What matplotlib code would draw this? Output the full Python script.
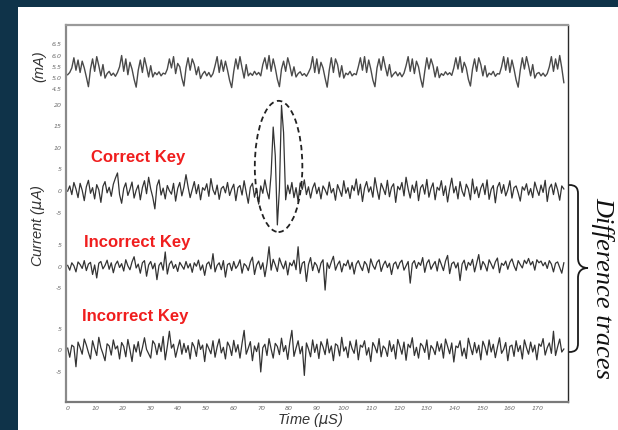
import numpy as np
import matplotlib.pyplot as plt
from matplotlib.patches import Ellipse, Rectangle, PathPatch
from matplotlib.path import Path

# --- data read off the picture (sampled every ~0.75 us) ---
# supply current trace, mA
supply_ma = [
    5.15, 5.25, 5.45, 5.90, 5.35, 5.80, 5.25, 5.75, 5.45, 5.05, 4.62, 5.40, 5.85, 5.30, 5.95, 5.55, 5.10, 5.60,
    5.00, 5.20, 5.30, 5.12, 5.22, 5.08, 5.25,
    5.50, 6.00, 5.30, 5.85, 5.15, 5.70, 5.40, 4.95, 4.60, 5.35, 5.80, 5.25, 5.90, 5.50, 5.05, 5.55,
    5.05, 5.25, 5.15, 5.28, 5.10, 5.22, 5.18,
    5.40, 5.85, 5.45, 5.95, 5.20, 5.65, 5.50, 5.00, 4.65, 5.45, 5.90, 5.35, 5.85, 5.60, 5.15, 5.50,
    4.98, 5.18, 5.30, 5.10, 5.25, 5.05, 5.20,
    5.55, 5.95, 5.25, 5.80, 5.30, 5.75, 5.35, 4.90, 4.58, 5.30, 5.85, 5.40, 5.95, 5.45, 5.00, 5.60,
    5.10, 5.22, 5.12, 5.30, 5.15, 5.25, 5.10,
    5.60, 5.90, 5.40, 6.00, 5.30, 5.85, 5.45, 4.95, 4.62, 5.40, 5.75, 5.30, 5.90, 5.55, 5.10, 5.50,
    5.05, 5.20, 5.28, 5.12, 5.20, 5.08, 5.25,
    5.45, 5.95, 5.25, 5.85, 5.20, 5.70, 5.45, 5.00, 4.60, 5.35, 5.90, 5.25, 5.85, 5.60, 5.05, 5.55,
    5.00, 5.22, 5.15, 5.30, 5.10, 5.20, 5.15,
    5.50, 5.90, 5.35, 5.95, 5.25, 5.80, 5.40, 4.92, 4.62, 5.45, 5.85, 5.35, 5.95, 5.50, 5.10, 5.60,
    5.05, 5.18, 5.28, 5.10, 5.24, 5.06, 5.22,
    5.55, 5.95, 5.30, 5.85, 5.20, 5.75, 5.50, 4.98, 4.60, 5.30, 5.90, 5.40, 5.85, 5.55, 5.05, 5.50,
    5.02, 5.20, 5.12, 5.28, 5.15, 5.24, 5.12,
    5.45, 5.90, 5.40, 5.95, 5.25, 5.70, 5.45, 4.95, 4.65, 5.40, 5.85, 5.30, 5.90, 5.60, 5.10, 5.55,
    5.05, 5.22, 5.15, 5.30, 5.08, 5.20, 5.18,
    5.50, 5.95, 5.35, 5.90, 5.25, 5.80, 5.40, 4.92, 4.60, 5.35, 5.90, 5.40, 5.95, 5.55, 5.10, 5.60,
    5.00, 5.20, 5.25, 5.10, 5.22, 5.08, 5.20,
    5.50, 5.95, 5.30, 5.85, 5.40, 6.00, 5.45, 4.80,
]

# difference trace, correct key guess (uA)
diff_correct = [
    0.0, 1.2, -0.8, 2.0, 0.5, -1.5, 1.8, 0.2, -2.2, 1.0, 2.5, -0.5, 0.8, -1.8, 1.5, 0.3, -2.6, 1.1, 2.2, -0.4,
    0.9, -1.2, 1.6, 3.0, 4.2, -0.8, -2.8, 0.6, 1.9, -1.0, 0.4, 2.1, -1.6, 0.2, 1.4, -2.0, 0.8, 2.4, -0.6, 3.2,
    0.5, -1.4, -4.1, 1.2, 2.6, -0.9, 0.7, -1.8, 1.3, 0.1, -0.7, 1.8, -2.3, 0.6, 2.0, -1.1, 0.9, 3.8, 1.0, -1.5,
    0.4, 2.2, -0.6, 1.5, -2.0, 0.8, 0.2, 1.7, -1.2, 2.9, 0.3, -0.8, 1.4, -1.9, 0.6, 1.1, -0.4, 2.0, -1.0, 0.5,
    1.6, -2.2, 0.8, 1.3, -0.9, 2.4, -0.3, -2.8, 0.9, 1.8, -1.4, 0.6, -3.0, 1.2, -0.5, 2.6, 0.0, -1.8, 4.0, 14.8,
    8.2, -7.8, 0.5, 19.8, 13.5, -2.0, 1.4, -0.6, 2.0, -1.5, 0.8, -2.4, 1.9, 0.4, 2.6, -0.8, 1.0, -1.6, 0.7, 1.9,
    -0.6, 0.9, -1.8, 1.2, 0.3, -0.9, 2.1, -0.4, 0.6, -2.1, 1.5, 0.2, -1.2, 2.4, -0.5, 0.8, -1.7, 1.3, 0.1, 2.8,
    -0.9, 1.6, -2.4, 0.7, 2.2, -0.2, 1.0, -1.4, 3.1, 0.4, -1.9, 1.8, 0.6, -0.8, 2.5, -1.3, 0.9, 1.7, -2.6, 1.1,
    0.3, 2.0, -1.1, 3.2, 0.5, -1.6, 1.4, -0.3, 2.3, -2.2, 0.8, 1.5, -0.7, 2.7, -1.4, 0.6, 1.9, -2.0, 0.9, 0.2,
    2.4, -1.0, 1.2, -2.5, 0.6, 3.0, -0.4, 1.1, -1.8, 2.2, 0.0, -1.2, 1.6, 0.5, -2.0, 2.8, -0.6, 1.0, -1.5, 0.7,
    1.8, -0.8, 2.6, -1.9, 0.4, 1.3, -2.7, 0.9, 2.0, -0.5, 1.5, -1.1, 0.3, 2.4, -1.6, 0.8, 1.2, -0.4, -2.3, 1.0,
    0.2, 1.7, -0.9, 0.6, -1.5, 2.1, 0.4, -1.0, 1.4, -0.3, 2.5, -2.4, 0.7, 1.6, -0.8, 1.9, 0.3, -2.1, 1.2, 0.5,
]

# difference trace, first incorrect key (uA)
diff_wrong1 = [
    0.3, -0.8, 0.9, 0.2, -1.2, 1.1, 0.5, -0.4, 1.4, -0.9, 0.6, 1.0, -1.8, 0.4, -2.6, 0.8, 1.2, -0.5, 0.3, 1.5,
    -0.6, 0.9, -1.4, 0.5, 1.3, -0.2, 0.7, -1.0, 1.6, 0.2, -0.7, 1.1, 2.3, -0.3, 0.6, -1.5, 0.9, 1.4, -2.2, 0.4,
    1.2, -0.5, 0.8, -3.0, 0.3, 1.0, -0.8, 3.4, -1.7, 0.6, 1.3, -0.4, 0.5, -1.1, 1.0, 0.2, -0.6, 1.2, -0.3, 0.7,
    -1.3, 0.9, 0.1, 1.5, -0.8, 0.4, -2.0, 0.6, 1.1, -0.5, 3.0, -1.2, 0.3, 0.9, -0.7, 1.4, -2.4, 0.5, 0.8, -0.9,
    1.2, -0.4, 0.3, 1.6, -1.5, 0.7, 0.2, -0.9, 1.1, 2.2, -1.8, 0.4, 1.3, -0.6, 0.9, -2.3, 0.6, 4.6, -0.8, 1.7,
    0.4, -1.1, 2.0, 0.6, -0.5, 1.3, -1.9, 0.9, 0.2, 1.5, -0.7, 4.6, -1.6, 0.8, 1.2, -3.4, 0.5, 2.1, -0.9, 1.0,
    0.3, -1.4, 0.8, 1.6, -5.4, 0.9, -0.4, 1.1, 2.4, -0.8, 0.5, 1.3, -1.2, 0.7, 0.2, 1.5, -0.6, 1.0, -1.7, 0.6,
    1.4, 0.1, -0.9, 1.2, 0.5, -1.4, 1.8, 0.3, -0.6, 1.0, 1.6, -1.1, 0.4, 1.3, -0.2, 0.8, -1.8, 0.6, 1.1, -0.5,
    0.9, 1.5, -0.8, 0.2, 1.2, -3.8, 0.7, 1.4, -0.4, 1.0, 0.3, 2.1, -1.3, 0.8, 1.6, -0.6, 0.4, 1.2, -1.0, 1.8,
    0.5, -0.9, 1.3, 2.6, -1.6, 0.7, 1.1, -0.3, 0.9, -3.2, 0.6, 1.5, -0.8, 1.0, 0.3, 1.7, -1.2, 0.8, 2.8, -0.7,
    1.2, 0.4, -1.0, 1.6, 0.6, -0.5, 1.1, 2.0, -1.4, 0.8, 0.3, 1.3, -0.6, 1.0, 1.8, 0.2, -0.9, 1.4, 0.5, -0.3,
    1.5, 0.7, 1.9, 0.4, 1.2, -0.8, 1.6, 0.9, 1.3, 0.2, 1.0, -0.4, 1.4, 0.6, -1.2, 0.8, 1.1, -0.2, -1.5, 0.9,
]

# difference trace, second incorrect key (uA)
diff_wrong2 = [
    0.5, -1.6, 1.2, 0.8, -3.8, 1.9, 0.6, -0.9, 2.6, 1.2, -0.5, -2.0, 2.2, 0.4, -1.2, 3.0, 0.6, -0.8, -2.4, 1.5,
    1.0, -1.1, 2.4, 0.3, 1.0, -2.0, 1.8, 0.9, -1.5, 2.5, 0.1, -2.6, 1.3, -0.4, 2.0, -1.4, 0.6, 2.9, 0.2, -0.8,
    -1.8, 2.2, 1.4, -1.0, 1.6, -0.3, 3.2, -2.2, 0.9, 4.4, 0.5, 1.4, -1.6, 0.5, 2.4, -0.9, 1.6, -0.5, 1.1, -2.0,
    1.8, 0.8, -1.4, 2.4, 0.2, 1.2, -2.6, 1.5, 0.4, -0.8, 2.2, -1.6, 0.8, 2.6, -0.6, 0.7, -2.0, 1.9, 0.9, -1.2,
    2.3, -0.4, 1.3, -1.8, 1.6, 4.6, -0.9, 0.5, 2.0, -2.4, 1.0, -0.3, 1.7, -5.0, 0.6, 1.4, -1.2, 2.7, 0.3, -1.8,
    1.6, 0.9, -1.0, 2.8, -0.3, 1.1, -2.1, 1.8, 4.6, -1.4, 0.5, 2.2, -0.8, 0.9, -5.8, 1.7, 0.3, -1.5, 2.4, -0.5,
    1.4, -1.9, 2.0, 0.8, -1.0, 2.6, -0.6, 1.0, -2.4, 1.5, 1.1, -1.3, 3.0, -0.2, 0.8, -1.7, 2.1, 0.4, -0.7, 2.4,
    -2.2, 1.2, 0.7, 2.2, -1.1, 0.6, -2.6, 1.8, 0.8, -0.6, 2.7, -1.5, 1.0, 0.4, -1.4, 2.2, -0.3, 1.3, -2.0, 2.5,
    0.9, -0.9, 1.9, -2.3, 1.4, 0.6, 2.9, -1.2, 0.7, -1.8, 1.6, 1.0, -0.5, 2.4, -2.1, 1.1, 0.4, -1.0, 2.0, -0.2,
    1.5, -1.8, 2.6, 0.9, -0.8, 1.7, -2.7, 1.0, 0.6, 2.2, -1.3, 0.5, -1.9, 2.8, 0.8, -1.0, 1.8, -0.6, 1.2, -2.2,
    2.1, 0.8, -1.1, 2.4, -0.4, 1.4, -1.7, 0.7, 2.9, -0.7, 0.2, 1.8, -2.4, 0.9, 1.2, -1.4, 2.2, -0.3, 1.1, -2.0,
    2.4, 0.6, -0.9, 1.9, -0.4, 1.2, -2.2, 1.5, 0.9, 2.7, -1.1, 0.6, 1.7, -0.7, 4.4, -1.2, 0.8, 2.6, -0.4, 0.3,
]

x_ticks = list(range(0, 180, 10))
ma_ticks = [4.5, 5.0, 5.5, 6.0, 6.5]
correct_ticks = [-5, 0, 5, 10, 15, 20]
wrong_ticks = [-5, 0, 5]
labels = ["Correct Key", "Incorrect Key", "Incorrect Key"]

# vertical layout of the stacked traces (in uA units of the shared axis)
OFF_MA, MA_SCALE = 74.8, 5.22
OFF_CORRECT, OFF_WRONG1, OFF_WRONG2 = 48.7, 31.25, 11.94

NAVY = "#0f3349"
RED = "#f01e1e"

W, H = 618, 430
fig = plt.figure(figsize=(W / 100, H / 100), dpi=100, facecolor=NAVY)
fig.patches.append(Rectangle((18 / W, 0), 1 - 18 / W, 1 - 7 / H, transform=fig.transFigure,
                             facecolor="white", edgecolor="none", zorder=-5))


def px(x, y):
    # pixel position (y down) -> figure fraction
    return x / W, 1 - y / H


ax = fig.add_axes([66 / W, 1 - 402 / H, (568 - 66) / W, (402 - 25) / H])
ax.set_zorder(2)
ax.patch.set_alpha(0)
ax.set_xlim(-0.6, 181)
ax.set_ylim(0, 377 / 4.33)

trace_col = "#333333"
t = np.linspace(0, 179.5, len(supply_ma))
ax.plot(t, OFF_MA + (np.array(supply_ma) - 5.0) * MA_SCALE, color="#4a4a4a", lw=1.0)
for vals, off in [(diff_correct, OFF_CORRECT), (diff_wrong1, OFF_WRONG1), (diff_wrong2, OFF_WRONG2)]:
    t = np.linspace(0, 179.5, len(vals))
    ax.plot(t, off + np.array(vals), color=trace_col, lw=0.9)

# ticks
yt, yl = [], []
for v in ma_ticks:
    yt.append(OFF_MA + (v - 5.0) * MA_SCALE)
    yl.append(f"{v:.1f}")
for v in correct_ticks:
    yt.append(OFF_CORRECT + v)
    yl.append(str(v))
for off in (OFF_WRONG1, OFF_WRONG2):
    for v in wrong_ticks:
        yt.append(off + v)
        yl.append(str(v))
ax.set_yticks(yt)
ax.set_yticklabels(yl)
ax.set_xticks(x_ticks)
ax.set_xticklabels([str(v) for v in x_ticks])
ax.tick_params(length=0, labelsize=4.5, labelcolor="#6a6a6a", pad=3)
for lab in ax.get_xticklabels() + ax.get_yticklabels():
    lab.set_fontstyle("italic")

for side, col, lw in [("left", "#8a8a8a", 1.6), ("bottom", "#7a7a7a", 1.6),
                      ("top", "#9a9a9a", 1.6), ("right", "#2a2a2a", 1.0)]:
    ax.spines[side].set_color(col)
    ax.spines[side].set_linewidth(lw)

# dashed ellipse around the correlation peak
ax.add_patch(Ellipse((76.3, 54.4), 17.2, 30.3, fill=False, ls=(0, (3, 2)),
                     lw=1.3, ec="#222222", zorder=3))

# red key labels
for (lx, ly), txt in zip([(138, 157), (137, 242), (135, 317)], labels):
    fx, fy = px(lx, ly)
    fig.text(fx, fy, txt, color=RED, fontsize=12, fontweight="bold", ha="center", va="center",
             family="Liberation Sans")

# axis titles
fig.text(*px(38, 226), "Current ($\\mu$A)", rotation=90, ha="center", va="center",
         fontsize=10.5, style="italic", color="#333333", family="Liberation Sans")
fig.text(*px(39, 66), "(mA)", rotation=90, ha="center", va="center",
         fontsize=10.5, style="italic", color="#333333", family="Liberation Sans")
fig.text(*px(310, 420), "Time ($\\mu$S)", ha="center", va="center",
         fontsize=10.5, style="italic", color="#333333", family="Liberation Sans")

# curly brace grouping the difference traces
bp = [(569, 185), (576, 185), (578, 188), (578, 194), (578, 258),
      (578, 265), (582, 268), (588, 268), (582, 268), (578, 271), (578, 278),
      (578, 343), (578, 349), (576, 352), (569, 352)]
codes = [Path.MOVETO, Path.CURVE4, Path.CURVE4, Path.CURVE4, Path.LINETO,
         Path.CURVE4, Path.CURVE4, Path.CURVE4, Path.CURVE4, Path.CURVE4, Path.CURVE4,
         Path.LINETO, Path.CURVE4, Path.CURVE4, Path.CURVE4]
brace = Path([px(x, y) for x, y in bp], codes)
fig.patches.append(PathPatch(brace, transform=fig.transFigure, fill=False, lw=1.3, ec="#1a1a1a"))

fig.text(*px(603, 288), "Difference traces", rotation=-90, ha="center", va="center",
         fontsize=19, style="italic", family="Liberation Serif", color="#111111")

fig.savefig("out.png", dpi=100, facecolor=NAVY)
